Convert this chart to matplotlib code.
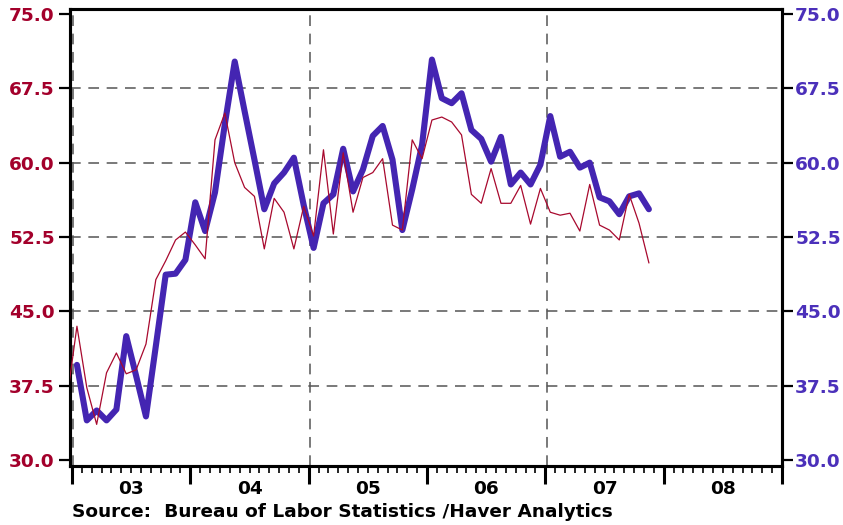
import matplotlib
matplotlib.use("Agg")
import matplotlib.pyplot as plt
import numpy as np

# ---------------- data ----------------
# Red series (left axis), monthly, Dec 2002 .. Nov 2007
red_start = (2002, 12)
red_values = [
    36.2,
    43.5, 37.3, 33.6, 38.8, 40.8, 38.7, 39.1, 41.7, 48.2, 50.1, 52.2, 53.0,
    51.7, 50.3, 62.3, 65.0, 60.0, 57.5, 56.6, 51.3, 56.4, 55.0, 51.3, 55.6,
    52.6, 61.3, 52.8, 61.0, 55.0, 58.5, 59.0, 60.4, 53.7, 53.2, 62.3, 60.4,
    64.3, 64.6, 64.1, 62.8, 56.8, 55.9, 59.4, 55.9, 55.9, 57.7, 53.8, 57.4,
    55.0, 54.7, 54.9, 53.1, 57.8, 53.7, 53.2, 52.2, 56.8, 53.9, 49.9,
]
# Blue series (right axis), monthly, Jan 2003 .. Nov 2007
blue_start = (2003, 1)
blue_values = [
    39.6, 34.0, 35.0, 34.0, 35.1, 42.5, 38.5, 34.4, 41.5, 48.7, 48.8, 50.2,
    56.0, 53.1, 57.0, 63.9, 70.2, 65.2, 60.3, 55.3, 57.9, 59.0, 60.5, 55.7,
    51.4, 55.9, 56.8, 61.4, 57.1, 59.3, 62.7, 63.7, 60.3, 53.2, 57.3, 61.8,
    70.4, 66.5, 66.0, 67.0, 63.3, 62.4, 60.1, 62.6, 57.8, 59.0, 57.8, 59.8,
    64.7, 60.6, 61.1, 59.5, 60.0, 56.5, 56.1, 54.8, 56.6, 56.9, 55.3,
]
y_ticks = [30.0, 37.5, 45.0, 52.5, 60.0, 67.5, 75.0]
years = [2003, 2004, 2005, 2006, 2007, 2008]
year_labels = ["03", "04", "05", "06", "07", "08"]
grid_years = [2003, 2005, 2007]
source_text = "Source:  Bureau of Labor Statistics /Haver Analytics"


def month_x(start, n):
    y0, m0 = start
    idx = np.arange(n) + (y0 * 12 + m0 - 1)
    return idx / 12.0 + 0.5 / 12.0


RED = "#A8092E"
RED_LBL = "#A3002B"
BLUE = "#4425B2"
BLUE_LBL = "#4B30BA"

plt.rcParams["font.family"] = ["DejaVu Sans"]
plt.rcParams["font.weight"] = "bold"

fig = plt.figure(figsize=(8.43, 5.25), dpi=100)
ax = fig.add_axes([70 / 843, 1 - 466 / 525, (782 - 70) / 843, (466 - 9) / 525])
ax2 = ax.twinx()

xmin, xmax = 2002.983, 2009.0
ymin, ymax = 29.4, 75.5
for a in (ax, ax2):
    a.set_xlim(xmin, xmax)
    a.set_ylim(ymin, ymax)

# grid lines
for yv in y_ticks[1:-1]:
    ax2.axhline(yv, color="#555555", lw=1.1, ls=(0, (7, 5)), zorder=0)
for xv in grid_years:
    ax2.axvline(xv + 0.012, color="#555555", lw=1.1, ls=(0, (7, 5)), zorder=0)

# series
ax2.plot(month_x(blue_start, len(blue_values)), blue_values, color=BLUE,
         lw=4.4, solid_capstyle="round", solid_joinstyle="round", zorder=3)
ax.plot(month_x(red_start, len(red_values)), red_values, color=RED,
        lw=0.9, zorder=4)
ax.set_zorder(ax2.get_zorder() + 1)
ax.patch.set_visible(False)

# y axes
ax.set_yticks(y_ticks)
ax.set_yticklabels([f"{v:.1f}" for v in y_ticks])
ax2.set_yticks(y_ticks)
ax2.set_yticklabels([f"{v:.1f}" for v in y_ticks])
ax.tick_params(axis="y", which="major", direction="out", length=8, width=1.6,
               pad=3, labelsize=13.3, labelcolor=RED_LBL, colors="black")
ax.tick_params(axis="y", labelcolor=RED_LBL)
ax2.tick_params(axis="y", which="major", direction="out", length=8, width=1.6,
                pad=1.5, labelsize=13.3, labelcolor=BLUE_LBL)

# x axis: labels at mid-year, month minor ticks, long year ticks via secondary axis
ax2.set_xticks([])
ax.set_xticks([y + 0.5 for y in years])
ax.set_xticklabels(year_labels)
ax.set_xticks(np.arange(2003, 2009.001, 1 / 12.0), minor=True)
ax.tick_params(axis="x", which="major", direction="out", length=5, width=1.2,
               pad=5, labelsize=13.3, labelcolor="black")
ax.tick_params(axis="x", which="minor", direction="out", length=5, width=1.2)
sec = ax.secondary_xaxis("bottom")
sec.set_xticks(years + [2009])
sec.set_xticklabels([])
sec.tick_params(axis="x", direction="out", length=13, width=2.2)
sec.spines["bottom"].set_visible(False)

for a in (ax, ax2):
    for s in a.spines.values():
        s.set_linewidth(2.2)
        s.set_color("black")

fig.text(72 / 843, 1 - 512 / 525, source_text, fontsize=13.3,
         fontweight="bold", color="black", ha="left", va="center")

fig.savefig("out.png", dpi=100)
